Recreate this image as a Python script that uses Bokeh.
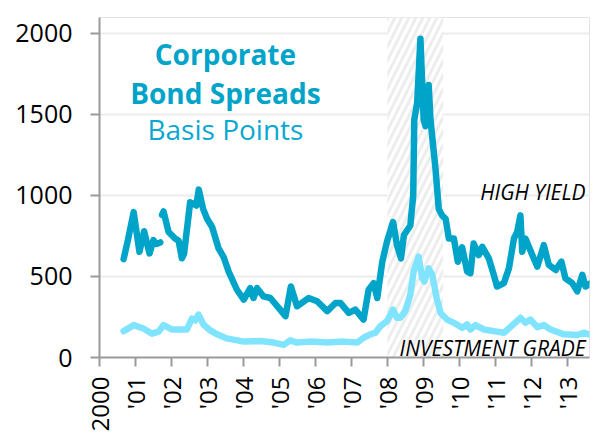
import math
from bokeh.plotting import figure
from bokeh.models import FixedTicker, BoxAnnotation, Label
from bokeh.embed import file_html
from bokeh.resources import INLINE

# ---- data ----
hy_year = [2000.67, 2000.78, 2000.95, 2001.11, 2001.24, 2001.39, 2001.50, 2001.58, 2001.69, float("nan"),
           2001.74, 2001.78, 2001.92, 2002.10, 2002.20, 2002.29, 2002.35, 2002.52, 2002.69, 2002.76,
           2002.88, 2002.99, 2003.13, 2003.31, 2003.45, 2003.59, 2003.82, 2004.01, 2004.19, 2004.28,
           2004.38, 2004.56, 2004.75, 2004.98, 2005.17, 2005.32, 2005.49, 2005.81, 2006.05, 2006.33,
           2006.56, 2006.70, 2006.93, 2007.11, 2007.34, 2007.48, 2007.62, 2007.72, 2007.86, 2007.99,
           2008.16, 2008.27, 2008.38, 2008.46, 2008.64, 2008.72, 2008.75, 2008.83, 2008.92, 2009.01,
           2009.06, 2009.15, 2009.20, 2009.34, 2009.43, 2009.52, 2009.62, 2009.71, 2009.85, 2009.96,
           2010.08, 2010.22, 2010.31, 2010.40, 2010.54, 2010.64, 2010.82, 2010.96, 2011.05, 2011.24,
           2011.38, 2011.52, 2011.61, 2011.70, 2011.75, 2011.84, 2012.03, 2012.17, 2012.35, 2012.49,
           2012.68, 2012.84, 2012.95, 2013.14, 2013.28, 2013.42, 2013.51, 2013.65]
hy_value = [607, 714, 897, 652, 779, 642, 724, 700, 710, float("nan"),
            880, 901, 775, 734, 720, 612, 640, 958, 938, 1036,
            917, 856, 805, 673, 620, 530, 418, 357, 428, 367,
            428, 377, 367, 306, 255, 438, 316, 367, 347, 286,
            336, 336, 275, 296, 234, 418, 459, 367, 591, 714,
            836, 693, 612, 754, 815, 999, 1468, 1570, 1967, 1468,
            1427, 1682, 1468, 1162, 917, 877, 856, 734, 734, 591,
            680, 530, 520, 703, 632, 683, 612, 510, 438, 459,
            550, 734, 775, 877, 652, 734, 632, 561, 693, 571,
            540, 591, 489, 459, 408, 510, 438, 459]

ig_year = [2000.67, 2000.95, 2001.22, 2001.46, 2001.64, 2001.78, 2002.01, 2002.24, 2002.43, 2002.57,
           2002.66, 2002.75, 2002.89, 2003.08, 2003.27, 2003.54, 2004.01, 2004.47, 2004.84, 2005.12,
           2005.30, 2005.49, 2005.86, 2006.33, 2006.79, 2007.16, 2007.34, 2007.53, 2007.67, 2007.81,
           2007.99, 2008.16, 2008.27, 2008.36, 2008.50, 2008.64, 2008.73, 2008.87, 2008.97, 2009.03,
           2009.15, 2009.25, 2009.37, 2009.48, 2009.66, 2009.85, 2010.08, 2010.22, 2010.31, 2010.45,
           2010.68, 2010.96, 2011.24, 2011.52, 2011.70, 2011.84, 2011.98, 2012.17, 2012.35, 2012.54,
           2012.91, 2013.28, 2013.46, 2013.65]
ig_value = [163, 200, 179, 147, 159, 200, 173, 173, 173, 240,
            228, 265, 204, 167, 143, 118, 98, 102, 92, 78,
            106, 92, 98, 92, 98, 92, 122, 143, 153, 194,
            224, 296, 245, 245, 285, 387, 530, 622, 489, 469,
            550, 510, 367, 275, 234, 214, 183, 204, 173, 200,
            173, 163, 153, 208, 245, 214, 234, 187, 200, 173,
            143, 139, 153, 139]

recession_start = 2008.0
recession_end = 2009.55

x_ticks = list(range(2000, 2014))
x_tick_labels = ["2000", "'01", "'02", "'03", "'04", "'05", "'06", "'07", "'08", "'09", "'10", "'11", "'12", "'13"]
y_ticks = [0, 500, 1000, 1500, 2000]

title_lines = ["Corporate", "Bond Spreads"]
subtitle = "Basis Points"
hy_label = "HIGH YIELD"
ig_label = "INVESTMENT GRADE"

# ---- style ----
HY_COLOR = "#00A4C8"
IG_COLOR = "#80E4FF"
FONT = "Open Sans"

p = figure(width=595, height=434, output_backend="svg", toolbar_location=None,
           x_range=(2000, 2013.62), y_range=(0, 2098),
           min_border_left=99, min_border_right=6, min_border_top=17, min_border_bottom=74)
p.background_fill_color = "white"
p.border_fill_color = "white"
p.outline_line_color = "#e3e3e3"
p.outline_line_width = 1

# recession band
band = BoxAnnotation(left=recession_start, right=recession_end, fill_color="white", fill_alpha=1.0,
                     hatch_pattern="/", hatch_color="#ededed", hatch_weight=3, hatch_scale=14,
                     line_color=None, level="underlay")
p.add_layout(band)

p.line(hy_year, hy_value, line_color=HY_COLOR, line_width=6.5, line_cap="round", line_join="round")
p.line(ig_year, ig_value, line_color=IG_COLOR, line_width=6.5, line_cap="round", line_join="round")

# axes
p.xaxis.ticker = FixedTicker(ticks=x_ticks)
p.xaxis.major_label_overrides = {t: l for t, l in zip(x_ticks, x_tick_labels)}
p.xaxis.major_label_orientation = math.pi / 2
p.yaxis.ticker = FixedTicker(ticks=y_ticks)
for ax in (p.xaxis, p.yaxis):
    ax.axis_line_color = "#9a9a9a"
    ax.axis_line_width = 2
    ax.major_tick_line_color = "#9a9a9a"
    ax.major_tick_line_width = 2
    ax.major_tick_out = 9
    ax.major_tick_in = 0
    ax.minor_tick_line_color = None
    ax.major_label_text_font = FONT
    ax.major_label_text_color = "black"
p.yaxis.major_label_text_font_size = "25px"
p.xaxis.major_label_text_font_size = "24px"
p.yaxis.major_label_standoff = 18
p.xaxis.major_label_standoff = 10

p.xgrid.grid_line_color = None
p.ygrid.grid_line_color = "#ececec"
p.ygrid.grid_line_width = 2

# texts
p.add_layout(Label(x=2003.5, y=1872, text=title_lines[0], text_font=FONT, text_font_style="bold",
                   text_font_size="28px", text_color=HY_COLOR, text_align="center", text_baseline="alphabetic"))
p.add_layout(Label(x=2003.5, y=1635, text=title_lines[1], text_font=FONT, text_font_style="bold",
                   text_font_size="28px", text_color=HY_COLOR, text_align="center", text_baseline="alphabetic"))
p.add_layout(Label(x=2003.5, y=1410, text=subtitle, text_font=FONT,
                   text_font_size="28px", text_color="#0AA8D0", text_align="center", text_baseline="alphabetic"))
p.add_layout(Label(x=2013.51, y=1022, text=hy_label, text_font=FONT, text_font_style="italic",
                   text_font_size="21px", text_color="black", text_align="right", text_baseline="alphabetic"))
p.add_layout(Label(x=2013.51, y=56, text=ig_label, text_font=FONT, text_font_style="italic",
                   text_font_size="21px", text_color="black", text_align="right", text_baseline="alphabetic"))

open("out.html", "w").write(file_html(p, INLINE))
